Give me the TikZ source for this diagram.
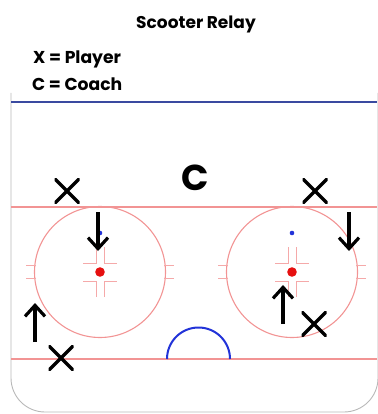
\documentclass[tikz,border=0pt]{standalone}
\usepackage{fontspec}
\setmainfont{Poppins}
\usetikzlibrary{arrows.meta}
\definecolor{rinkblue}{HTML}{3A4AA0}
\definecolor{rinkred}{HTML}{F29494}
\definecolor{creaseblue}{HTML}{2233D8}
\definecolor{dotred}{HTML}{E61010}
\tikzset{
  board/.style={black!28, line width=0.9pt},
  blueline/.style={rinkblue, line width=2pt},
  redline/.style={rinkred, line width=1.6pt},
  fcircle/.style={rinkred, line width=1.1pt},
  hash/.style={rinkred!80, line width=1pt},
  crease/.style={creaseblue, line width=2pt},
  player/.style={minimum size=25pt, inner sep=0pt,
    path picture={\draw[black, line width=3.4pt]
      (path picture bounding box.north west) -- (path picture bounding box.south east)
      (path picture bounding box.north east) -- (path picture bounding box.south west);}},
  coach/.style={font=\fontsize{36}{36}\selectfont\bfseries, inner sep=0pt},
  move/.style={black, line width=3.2pt, -{Straight Barb[length=11pt, width=20pt, line width=3.2pt]}},
  legend/.style={font=\fontsize{17.2}{19}\selectfont\bfseries, inner sep=0pt, anchor=base west},
}
\begin{document}
\begin{tikzpicture}[x=1pt, y=-1pt]
  \useasboundingbox (0,0) rectangle (377,414);

  % --- titles and key ---
  \node[font=\fontsize{17}{18}\selectfont\bfseries, inner sep=0pt, anchor=base] (title) at (196,29) {Scooter Relay};
  \node[legend] (keyx) at (33,64) {X = Player};
  \node[legend] (keyc) at (32,91) {C = Coach};

  % --- boards and lines ---
  \draw[board] (11,93) -- (11,378) arc[start angle=180, end angle=90, radius=34]
    -- (344,412) arc[start angle=90, end angle=0, radius=34] -- (378,93);
  \draw[blueline] (11,102) -- (377,102);
  \draw[redline] (11,207) -- (377,207);
  \draw[redline] (11,359) -- (377,359);
  \draw[crease] (167,359) arc[start angle=180, end angle=360, radius=31.5];

  % --- faceoff circles ---
  \foreach \cx in {100,292} {
    \draw[fcircle] (\cx,272) circle (65.5);
    \foreach \sx in {-1,1} {
      \foreach \sy in {-1,1}
        \draw[hash] (\cx+\sx*4,272+\sy*25) -- (\cx+\sx*4,272+\sy*9) -- (\cx+\sx*17,272+\sy*9);
      \foreach \sy in {-6.5,6.5}
        \draw[hash] (\cx+\sx*64,272+\sy) -- (\cx+\sx*74,272+\sy);
    }
    \fill[dotred] (\cx,272) circle (4.8);
    \fill[creaseblue] (\cx,233) circle (2.3);
  }

  % --- coach and players ---
  \node[coach] (coach) at (195,178) {C};
  \node[player] (p1) at (67,191) {};
  \node[player] (p2) at (315,191) {};
  \node[player] (p3) at (61,358) {};
  \node[player] (p4) at (314,324) {};

  % --- skating paths ---
  \coordinate (m1a) at (98,212);  \coordinate (m1b) at (98,251);
  \coordinate (m2a) at (349,212); \coordinate (m2b) at (349,251);
  \coordinate (m3a) at (35,342);  \coordinate (m3b) at (35,303);
  \coordinate (m4a) at (283,324); \coordinate (m4b) at (283,285);
  \draw[move] (m1a) -- (m1b);
  \draw[move] (m2a) -- (m2b);
  \draw[move] (m3a) -- (m3b);
  \draw[move] (m4a) -- (m4b);
\end{tikzpicture}
\end{document}
